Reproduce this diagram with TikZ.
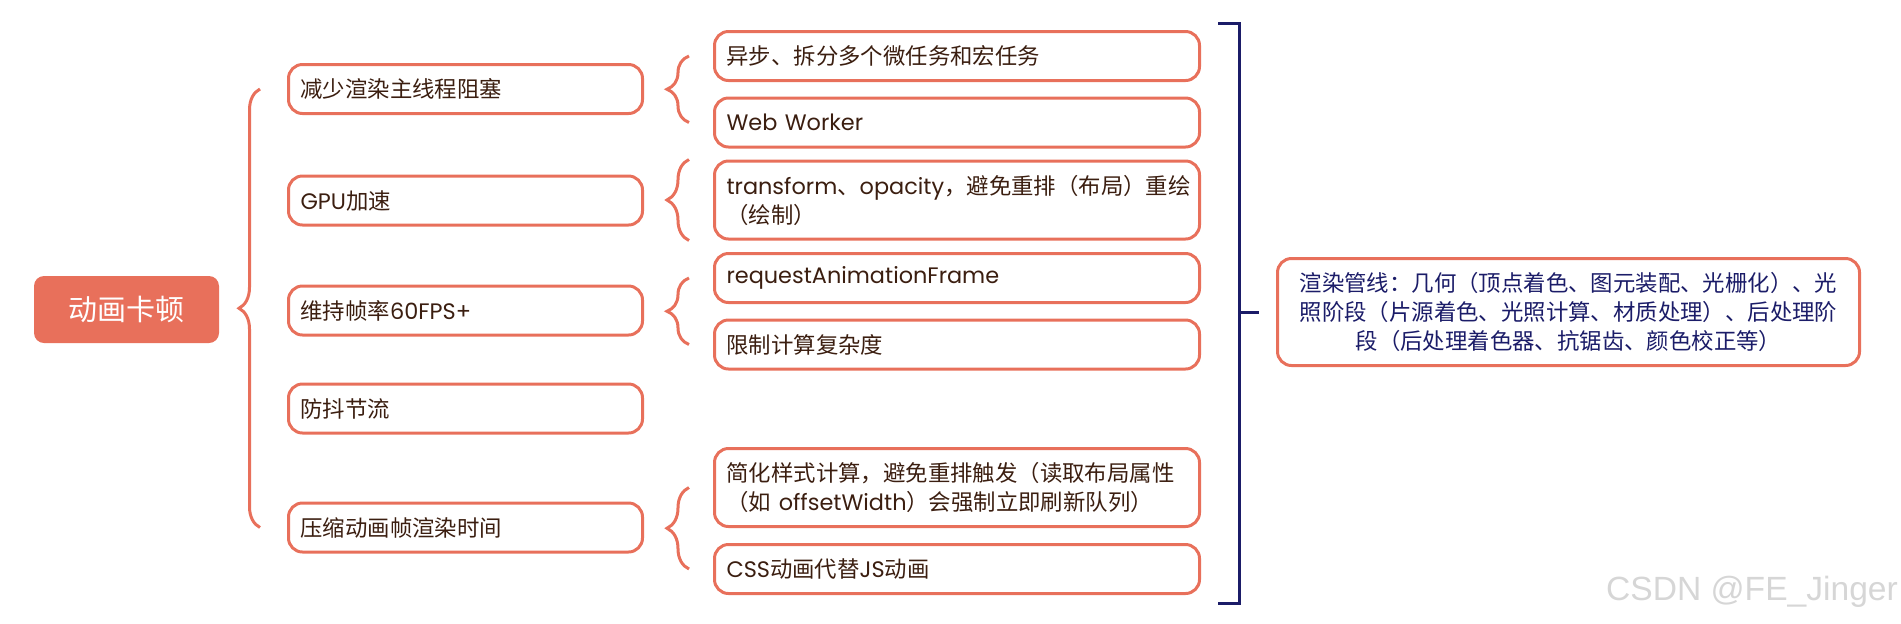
\documentclass[tikz,border=0pt]{standalone}
\usepackage{fontspec}
\setmainfont{Noto Sans CJK SC}
\newfontfamily\latf{Poppins}
\newfontfamily\markf{Liberation Sans}
\usetikzlibrary{calc,decorations.pathreplacing}
\definecolor{mmCoral}{HTML}{E8705B}
\definecolor{mmInk}  {HTML}{3B1E10}
\definecolor{mmNavy} {HTML}{1B1C68}
\definecolor{mmMark} {HTML}{D6D6D6}
\newcommand{\latw}[1]{{\latf #1}}

\begin{document}
\begin{tikzpicture}[x=0.5pt,y=-0.5pt,
      font=\fontsize{11.2}{14.5}\selectfont,
      topic/.style={draw=mmCoral,line width=1.5pt,rounded corners=7pt,
                    text=mmInk,inner xsep=6pt,inner ysep=2pt,align=left},
      lvone/.style={topic,text width=165pt,minimum height=24.5pt},
      lvtwo/.style={topic,text width=230.5pt,minimum height=24.5pt},
      brc/.style={draw=mmCoral,line width=1.5pt,decorate,
                  decoration={brace,amplitude=#1}},
      navy/.style={draw=mmNavy,line width=1.5pt}]
    \useasboundingbox (0,0) rectangle (1901,623);

    \node[fill=mmCoral,rounded corners=5pt,minimum width=92.5pt,minimum height=33.5pt,
          text=white,font=\fontsize{14.5}{16}\selectfont] (root) at (126.5,309.5) {动画卡顿};

    \node[lvone] (b1) at (465.5,89)    {减少渲染主线程阻塞};
    \node[lvone] (b2) at (465.5,200.5) {\latw{GPU}加速};
    \node[lvone] (b3) at (465.5,310.5) {维持帧率\latw{60FPS+}};
    \node[lvone] (b4) at (465.5,408.5) {防抖节流};
    \node[lvone] (b5) at (465.5,527.5) {压缩动画帧渲染时间};

    \node[lvtwo] (ca) at (957,56)    {异步、拆分多个微任务和宏任务};
    \node[lvtwo] (cb) at (957,122.5) {\latw{Web Worker}};
    \node[lvtwo,minimum height=39pt] (cc) at (957,200)
      {\latw{transform}、\latw{opacity}，避免重排（布局）重绘\\（绘制）};
    \node[lvtwo] (cd) at (957,278)   {\latw{requestAnimationFrame}};
    \node[lvtwo] (ce) at (957,344.5) {限制计算复杂度};
    \node[lvtwo,minimum height=39pt] (cf) at (957,487.5)
      {简化样式计算，避免重排触发（读取布局属性\\（如 \latw{offsetWidth}）会强制立即刷新队列）};
    \node[lvtwo] (cg) at (957,569)   {\latw{CSS}动画代替\latw{JS}动画};

    \node[draw=mmCoral,line width=1.5pt,rounded corners=7pt,text=mmNavy,
          text width=270pt,align=center,minimum height=53.5pt,inner xsep=10.5pt] (pipe) at (1568.5,312)
      {渲染管线：几何（顶点着色、图元装配、光栅化）、光\\照阶段（片源着色、光照计算、材质处理）、后处理阶\\段（后处理着色器、抗锯齿、颜色校正等）};

    \draw[brc=10.5pt] ($(b5.west)+(-27,0)$) -- ($(b1.west)+(-27,0)$);
    \foreach \lo/\hi in {cb.west/ca.west,cc.south west/cc.north west,ce.west/cd.west,cg.west/cf.west}
      \draw[brc=11pt] ($(\lo)+(-24,0)$) -- ($(\hi)+(-24,0)$);

    \coordinate (bt) at ($(ca.north east)+(17,-7)$);
    \coordinate (bb) at ($(cg.south east)+(17,8)$);
    \coordinate (bv) at ($(bt)+(21,0)$);
    \draw[navy] (bt) -- (bv) |- (bb);
    \draw[navy] (bv |- pipe.west) -- ($(pipe.west)+(-17,0)$);

    \node[text=mmMark,font=\markf\fontsize{16.8}{18}\selectfont] (mark) at (1752,592) {CSDN @FE\_Jinger};
  \end{tikzpicture}
\end{document}
